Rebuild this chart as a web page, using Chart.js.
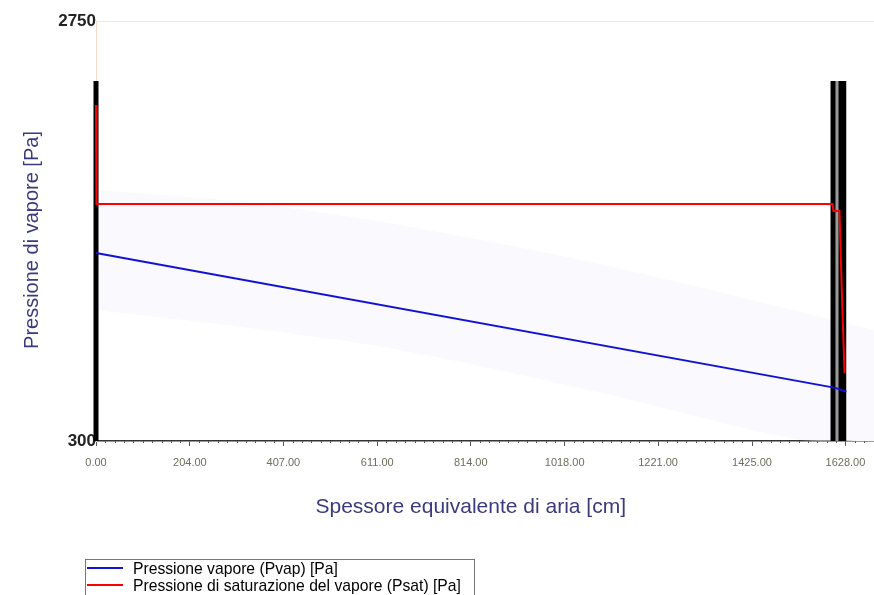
<!DOCTYPE html>
<html>
<head>
<meta charset="utf-8">
<script src="https://cdn.jsdelivr.net/npm/chart.js@4/dist/chart.umd.min.js"></script>
<style>
  html, body { margin: 0; padding: 0; background: #fff; }
  #wrap { position: relative; width: 874px; height: 595px; overflow: hidden; }
  #legend {
    position: absolute; left: 85px; top: 559px; width: 390px; height: 50px;
    border: 1px solid #777; box-sizing: border-box;
    font-family: "Liberation Sans", Arial, sans-serif; font-size: 15.7px; color: #000;
  }
  .item { position: absolute; left: 0; width: 100%; height: 17px; }
  .swatch { position: absolute; left: 1px; top: 7px; width: 36px; height: 2px; }
  .txt { position: absolute; left: 47px; top: 0; line-height: 17px; white-space: nowrap; }
</style>
</head>
<body>
<div id="wrap">
  <canvas id="chart" width="874" height="595"></canvas>
  <div id="legend"></div>
</div>
<script>
// axis ticks
const xTicks = [0, 204, 407, 611, 814, 1018, 1221, 1425, 1628];
const yTicks = [300, 2750];
const xMax = 1690;
const minorPerMajor = 10;

// vapour pressure (blue) and saturation pressure (red), x in cm of equivalent air
const pvapX = [0, 1606, 1630];
const pvapY = [1397, 610, 587];
const psatX = [0, 0, 2, 1600, 1602, 1615, 1620, 1626];
const psatY = [2260, 1863, 1683, 1683, 1642, 1642, 1181, 697];

// wall layers drawn as vertical bars
const layerX = [0, 1601, 1609, 1621];
const layerWidth = [5, 5, 3, 8];
const layerColor = ["#000", "#000", "#9a9a9a", "#000"];
const layerTop = 2400;

// faint background band
const bandX = [0, 330, 661, 1080, 1487, 1690];
const bandTop = [1764, 1690, 1560, 1340, 1082, 948];
const bandLowX = [0, 330, 661, 1100, 1530, 1690];
const bandLow = [1064, 960, 831, 580, 306, 300];

const names = ["Pressione vapore (Pvap) [Pa]", "Pressione di saturazione del vapore (Psat) [Pa]"];
const colors = ["#1212d6", "#ff0000"];
const xTitle = "Spessore equivalente di aria [cm]";
const yTitle = "Pressione di vapore [Pa]";
const titleFamily = '"Liberation Sans", Arial, sans-serif';
const titleColor = "#3a3a7c";

const pts = (xs, ys) => xs.map((x, i) => ({ x: x, y: ys[i] }));

const datasets = [];
datasets.push({
  data: pts(bandLowX, bandLow), borderWidth: 0, pointRadius: 0, showLine: true, tension: 0.3, order: 10
});
datasets.push({
  data: pts(bandX, bandTop), borderWidth: 0, pointRadius: 0, showLine: true, tension: 0.3,
  fill: "-1", backgroundColor: "#f9f9fe", order: 9
});
layerX.forEach((x, i) => {
  datasets.push({
    data: [{ x: x, y: yTicks[0] }, { x: x, y: layerTop }],
    borderColor: layerColor[i], borderWidth: layerWidth[i], pointRadius: 0,
    showLine: true, clip: 10, borderCapStyle: "butt", order: 5
  });
});
datasets.push({
  label: names[1], data: pts(psatX, psatY), borderColor: colors[1], borderWidth: 2,
  pointRadius: 0, showLine: true, clip: 10, order: 1
});
datasets.push({
  label: names[0], data: pts(pvapX, pvapY), borderColor: colors[0], borderWidth: 2,
  pointRadius: 0, showLine: true, clip: 10, order: 0
});

// minor ticks under the x axis, plus both axis titles
const extras = {
  id: "extras",
  afterDraw(chart) {
    const ctx = chart.ctx, sx = chart.scales.x, area = chart.chartArea;
    const step = (xTicks[2] - xTicks[0]) / 2 / minorPerMajor;
    ctx.save();
    ctx.strokeStyle = "#555";
    ctx.lineWidth = 1;
    for (let i = 1; i * step <= xMax; i++) {
      if (i % minorPerMajor === 0) continue;
      const px = Math.round(sx.getPixelForValue(i * step)) + 0.5;
      ctx.beginPath();
      ctx.moveTo(px, area.bottom);
      ctx.lineTo(px, area.bottom + 2);
      ctx.stroke();
    }
    ctx.fillStyle = titleColor;
    ctx.textAlign = "center";
    ctx.textBaseline = "middle";
    ctx.font = "21px " + titleFamily;
    const mid = (sx.getPixelForValue(xTicks[0]) + sx.getPixelForValue(xTicks[xTicks.length - 1])) / 2;
    ctx.fillText(xTitle, mid, 507);
    ctx.font = "20px " + titleFamily;
    ctx.translate(32, (area.top + area.bottom) / 2 + 9);
    ctx.rotate(-Math.PI / 2);
    ctx.fillText(yTitle, 0, 0);
    ctx.restore();
  }
};

const config = {
  type: "scatter",
  data: { datasets: datasets },
  options: {
    responsive: false,
    animation: false,
    layout: { padding: { top: 21, right: 0, bottom: 70, left: 0 } },
    plugins: { legend: { display: false }, tooltip: { enabled: false } },
    scales: {
      x: {
        type: "linear", min: 0, max: xMax,
        afterBuildTicks: s => { s.ticks = xTicks.map(v => ({ value: v })); },
        afterFit: s => { s.height = 84; s.paddingRight = 0; },
        ticks: {
          callback: v => v.toFixed(2), padding: 10, maxRotation: 0, autoSkip: false,
          color: "#6e6e5c", font: { family: titleFamily, size: 11 }
        },
        grid: { display: true, drawOnChartArea: false, drawTicks: true, tickLength: 5, tickColor: "#555" },
        border: { display: true, color: "#333", width: 1.5 }
      },
      y: {
        type: "linear", min: yTicks[0], max: yTicks[1],
        afterBuildTicks: s => { s.ticks = yTicks.map(v => ({ value: v })); },
        afterFit: s => { s.width = 96; },
        ticks: {
          callback: v => String(v), padding: 0,
          color: "#222", font: { family: titleFamily, size: 17, weight: "bold" }
        },
        grid: {
          drawTicks: false,
          color: c => (c.tick && c.tick.value === yTicks[1] ? "#fbe4d6" : "rgba(0,0,0,0)")
        },
        border: { display: true, color: "#f6dccc", width: 1 }
      }
    }
  },
  plugins: [extras]
};

const myChart = new Chart(document.getElementById("chart"), config);

// legend box
const legend = document.getElementById("legend");
names.forEach((n, i) => {
  const item = document.createElement("div");
  item.className = "item";
  item.style.top = (i * 17) + "px";
  item.innerHTML = '<span class="swatch" style="background:' + colors[i] + '"></span><span class="txt">' + n + "</span>";
  legend.appendChild(item);
});
</script>
</body>
</html>
